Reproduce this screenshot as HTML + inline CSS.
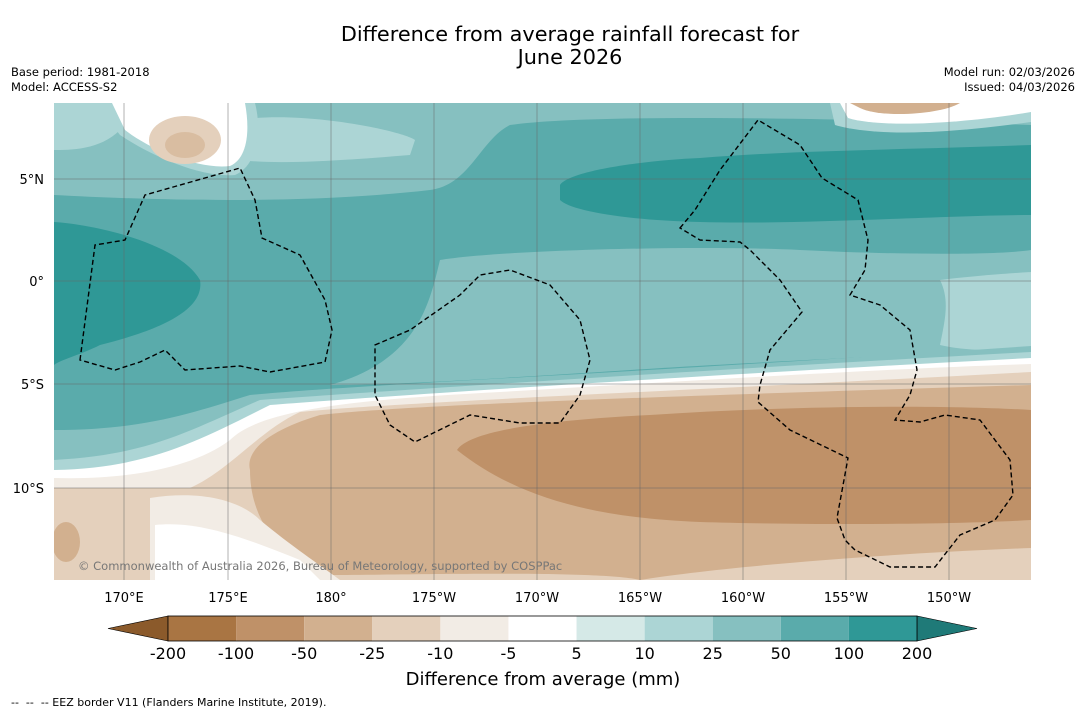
<!DOCTYPE html>
<html><head><meta charset="utf-8"><style>
body{margin:0;background:#fff;font-family:"Liberation Sans",sans-serif;}
svg text{font-family:"DejaVu Sans","Liberation Sans",sans-serif;}
</style></head><body>
<svg id="chart" width="1085" height="713" viewBox="0 0 1085 713" xmlns="http://www.w3.org/2000/svg">
<rect width="1085" height="713" fill="#fff"/>
<text x="570" y="41" font-size="20.8" text-anchor="middle">Difference from average rainfall forecast for</text>
<text x="570" y="64" font-size="20.8" text-anchor="middle">June 2026</text>
<text x="11" y="76" font-size="11.5">Base period: 1981-2018</text>
<text x="11" y="91" font-size="11.5">Model: ACCESS-S2</text>
<text x="1075" y="76" font-size="11.5" text-anchor="end">Model run: 02/03/2026</text>
<text x="1075" y="91" font-size="11.5" text-anchor="end">Issued: 04/03/2026</text>
<defs><clipPath id="mc"><rect x="54" y="103" width="977" height="477"/></clipPath></defs>
<g clip-path="url(#mc)">
<rect x="54" y="103" width="977" height="477" fill="#5aabab"/>
<path d="M54,103 H1031 V125 C900,120 600,112 510,125 C480,140 470,185 430,190 C300,205 150,200 54,195 Z" fill="#86c0c0"/>
<path d="M240,120 C300,110 400,130 415,140 L410,155 C350,160 280,165 240,160 Z" fill="#acd5d5"/>
<path d="M54,103 H115 L120,130 C100,150 70,150 54,150 Z" fill="#acd5d5"/>
<path d="M95,103 H255 C262,130 258,165 235,175 C200,178 150,155 120,135 Z" fill="#acd5d5"/>
<path d="M112,103 H245 C250,130 248,158 230,166 C200,170 150,150 125,130 Z" fill="#fff"/>
<ellipse cx="185" cy="140" rx="36" ry="24" fill="#e4d0bc"/>
<ellipse cx="185" cy="145" rx="20" ry="13" fill="#d2b08f" opacity="0.6"/>
<path d="M830,103 H1031 V122 C960,132 880,138 835,125 Z" fill="#acd5d5"/>
<path d="M840,103 H1031 V112 C960,124 880,128 848,118 Z" fill="#fff"/>
<path d="M850,103 H960 C940,115 880,118 860,108 Z" fill="#d2b08f"/>
<path d="M560,185 C570,170 650,160 700,158 C800,150 900,150 1031,145 V215 C950,215 800,225 700,222 C620,220 570,210 560,200 Z" fill="#2f9896"/>
<path d="M54,222 C100,225 180,245 200,280 C205,310 160,330 100,345 C80,355 60,360 54,365 Z" fill="#2f9896"/>
<path d="M440,260 C500,250 700,245 800,250 C900,255 1000,255 1031,250 V350 C900,355 700,365 600,372 C500,378 400,385 330,385 C420,360 430,300 440,260 Z" fill="#86c0c0"/>
<path d="M940,280 C980,275 1031,272 1031,272 V350 C1000,352 960,350 940,345 C945,320 950,300 940,280 Z" fill="#acd5d5"/>
<path d="M54,430 C150,430 200,410 250,395 C350,385 600,375 1031,346 V580 H54 Z" fill="#86c0c0"/>
<path d="M54,460 C150,455 190,430 260,400 C400,390 700,370 1031,352 V580 H54 Z" fill="#acd5d5"/>
<path d="M54,470 C150,468 200,440 270,405 C400,395 700,375 1031,358 V580 H54 Z" fill="#fff"/>
<path d="M54,478 C120,480 190,470 230,440 C260,410 350,400 500,392 C700,380 900,368 1031,364 V580 H54 Z" fill="#f2ece5"/>
<path d="M54,488 H190 C230,470 260,430 300,412 C400,402 700,390 1031,372 V580 H54 Z" fill="#e4d0bc"/>
<path d="M250,470 C245,450 270,430 320,415 C400,405 700,395 1031,385 V580 H640 C600,570 400,575 330,575 C280,560 250,520 250,470 Z" fill="#d2b08f"/>
<path d="M457,450 C470,430 550,420 650,415 C800,405 950,405 1031,410 V520 C950,525 800,525 700,522 C600,518 520,500 457,450 Z" fill="#bf9168"/>
<path d="M640,580 C700,570 850,555 1031,548 V580 Z" fill="#e4d0bc"/>
<path d="M150,498 C200,490 240,500 260,520 C290,545 320,565 340,580 H150 Z" fill="#f2ece5"/>
<path d="M155,525 C200,520 250,540 300,560 L320,580 H155 Z" fill="#fff"/>
<path d="M54,495 C100,492 140,500 150,520 C150,545 130,570 110,580 H54 Z" fill="#e4d0bc"/>
<ellipse cx="66" cy="542" rx="14" ry="20" fill="#d2b08f"/>
<g stroke="#666" stroke-width="0.5">
<line x1="124" y1="103" x2="124" y2="580"/><line x1="228" y1="103" x2="228" y2="580"/><line x1="331" y1="103" x2="331" y2="580"/><line x1="434" y1="103" x2="434" y2="580"/><line x1="537" y1="103" x2="537" y2="580"/><line x1="640" y1="103" x2="640" y2="580"/><line x1="743" y1="103" x2="743" y2="580"/><line x1="846" y1="103" x2="846" y2="580"/><line x1="949" y1="103" x2="949" y2="580"/>
<line x1="54" y1="179" x2="1031" y2="179"/><line x1="54" y1="281" x2="1031" y2="281"/><line x1="54" y1="384" x2="1031" y2="384"/><line x1="54" y1="488" x2="1031" y2="488"/>
</g>
<g fill="none" stroke="#000" stroke-width="1.4" stroke-dasharray="5,3">
<path d="M80,360 L95,245 L125,240 L145,195 L240,168 L255,200 L262,238 L300,255 L325,300 L332,330 L325,362 L270,372 L240,366 L185,370 L165,350 L140,362 L115,370 Z"/>
<path d="M375,345 L410,330 L460,295 L480,275 L510,270 L550,285 L580,320 L590,360 L580,395 L560,423 L520,423 L470,415 L415,442 L390,425 L375,395 Z"/>
<path d="M680,228 L695,210 L720,170 L758,120 L800,145 L822,178 L858,200 L868,240 L865,270 L850,295 L880,305 L910,330 L917,370 L910,395 L895,420 L920,422 L945,415 L980,420 L1010,460 L1013,495 L995,520 L960,535 L935,567 L890,567 L855,550 L845,540 L837,518 L848,458 L790,430 L758,402 L760,385 L770,350 L802,312 L780,280 L750,250 L740,242 L700,240 Z"/>
</g>
<text x="78" y="570" font-size="11.5" fill="#777">© Commonwealth of Australia 2026, Bureau of Meteorology, supported by COSPPac</text>
</g>
<g font-size="13" text-anchor="middle">
<text x="124" y="602">170°E</text><text x="228" y="602">175°E</text><text x="331" y="602">180°</text><text x="434" y="602">175°W</text><text x="537" y="602">170°W</text><text x="640" y="602">165°W</text><text x="743" y="602">160°W</text><text x="846" y="602">155°W</text><text x="949" y="602">150°W</text>
</g>
<g font-size="13" text-anchor="end">
<text x="44" y="184">5°N</text><text x="44" y="286">0°</text><text x="44" y="389">5°S</text><text x="44" y="493">10°S</text>
</g>
<g id="cbar"></g>
<text x="543" y="685" font-size="18" text-anchor="middle">Difference from average (mm)</text>
<text x="11" y="706" font-size="11" xml:space="preserve">--  --  -- EEZ border V11 (Flanders Marine Institute, 2019).</text>
</svg>
<script>
const levels=["-200","-100","-50","-25","-10","-5","5","10","25","50","100","200"];
const colors=["#a97543","#bf9168","#d2b08f","#e4d0bc","#f2ece5","#ffffff","#d5e9e7","#acd5d5","#86c0c0","#5aabab","#2f9896"];
const ns="http://www.w3.org/2000/svg";
const g=document.getElementById('cbar');
const x0=168,x1=917,y0=616,h=25,w=(x1-x0)/colors.length;
function mk(t,a){const e=document.createElementNS(ns,t);for(const k in a)e.setAttribute(k,a[k]);g.appendChild(e);return e;}
const lt=mk('polygon',{points:`${x0},${y0} ${x0},${y0+h} 108,${y0+h/2}`,fill:'#8b5a2b',stroke:'#000','stroke-width':0.6});


const rt=mk('polygon',{points:`${x1},${y0} ${x1},${y0+h} 977,${y0+h/2}`,fill:'#1f7a78',stroke:'#000','stroke-width':0.6});


colors.forEach((c,i)=>{const r=mk('rect',{x:x0+i*w,y:y0,width:w,height:h,fill:c});

});
const fr=mk('rect',{x:x0,y:y0,width:x1-x0,height:h,fill:'none',stroke:'#000','stroke-width':0.8});


levels.forEach((l,i)=>{const t=mk('text',{x:x0+i*w,y:659,'font-size':16,'text-anchor':'middle'});t.textContent=l;

});
</script>
</body></html>
